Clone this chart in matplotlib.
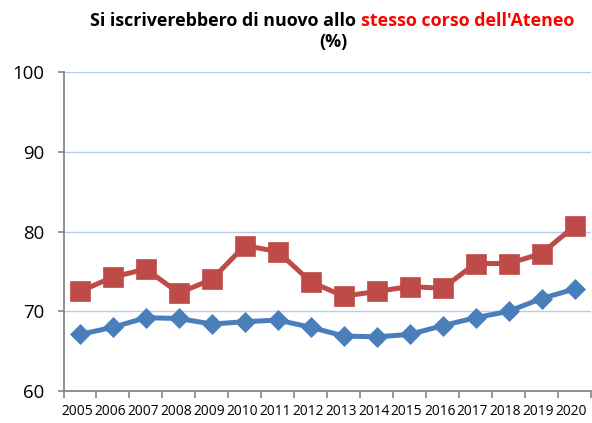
import matplotlib
matplotlib.use("Agg")
import matplotlib.pyplot as plt
import matplotlib.transforms as mtrans

years = [str(y) for y in range(2005, 2021)]
blue_vals = [67.1, 68.0, 69.2, 69.1, 68.4, 68.7, 68.9, 68.0, 66.9, 66.8, 67.1, 68.2, 69.2, 70.0, 71.6, 72.8]
red_vals = [72.5, 74.3, 75.3, 72.3, 74.0, 78.25, 77.5, 73.7, 71.9, 72.5, 73.1, 72.9, 76.0, 76.0, 77.25, 80.7]
y_ticks = [60, 70, 80, 90, 100]
title_black = "Si iscriverebbero di nuovo allo "
title_red = "stesso corso dell'Ateneo"
title_line2 = "(%)"

FONT = "Open Sans"
W, H = 592, 423
fig = plt.figure(figsize=(W / 100, H / 100), dpi=100)
ax = fig.add_axes([63.5 / W, 1 - 391 / H, (591 - 63.5) / W, (391 - 72.3) / H])

x = list(range(len(years)))
ax.plot(x, blue_vals, color="#4A7EBB", lw=3.6, marker="D", markersize=10,
        markerfacecolor="#4A7EBB", markeredgecolor="#4A7EBB", mew=0.5, zorder=3)
ax.plot(x, red_vals, color="#BE4B48", lw=3.6, marker="s", markersize=14,
        markerfacecolor="#BE4B48", markeredgecolor="#BE4B48", mew=0.5, zorder=3)

ax.set_xlim(-0.5, len(years) - 0.5)
ax.set_ylim(60, 100)
ax.set_yticks(y_ticks)
ax.set_yticklabels([str(v) for v in y_ticks], fontfamily=FONT, fontsize=13.4)
ax.set_xticks(x)
ax.set_xticklabels(years, fontfamily=FONT, fontsize=9.9)
ax.set_xticks([i - 0.5 for i in range(len(years) + 1)], minor=True)
ax.tick_params(axis="x", which="major", length=0, pad=9, colors="black")
ax.tick_params(axis="x", which="minor", length=5, width=1.2, color="#868686", direction="out")
ax.tick_params(axis="y", length=4.5, width=1.2, color="#868686", direction="out", pad=9, labelcolor="black")

offset = mtrans.ScaledTranslation(-3 / 100, 0, fig.dpi_scale_trans)
for lab in ax.get_xticklabels():
    lab.set_transform(lab.get_transform() + offset)

for v in y_ticks[1:]:
    ax.axhline(v, color="#B9CDE5", lw=1.0, zorder=1)

for s in ["top", "right"]:
    ax.spines[s].set_visible(False)
for s in ["left", "bottom"]:
    ax.spines[s].set_color("#868686")
    ax.spines[s].set_linewidth(1.3)

# Title with two colours
renderer = fig.canvas.get_renderer()
fs = 12.0
center_px = 332
full = fig.text(0, 0, title_black + title_red, fontfamily=FONT, fontweight="bold", fontsize=fs)
wfull = full.get_window_extent(renderer).width
full.remove()
fs = fs * 486 / wfull
full = fig.text(0, 0, title_black + title_red, fontfamily=FONT, fontweight="bold", fontsize=fs)
wfull = full.get_window_extent(renderer).width
full.remove()
left_px = center_px - wfull / 2
right_px = center_px + wfull / 2
yb = 1 - 26 / H
fig.text(left_px / W, yb, title_black, fontfamily=FONT, fontweight="bold", fontsize=fs,
         color="black", ha="left", va="baseline")
fig.text(right_px / W, yb, title_red, fontfamily=FONT, fontweight="bold", fontsize=fs,
         color="#FF0000", ha="right", va="baseline")
fig.text(333 / W, 1 - 47 / H, title_line2, fontfamily=FONT, fontweight="bold", fontsize=fs,
         color="black", ha="center", va="baseline")

fig.savefig("out.png", dpi=100)
